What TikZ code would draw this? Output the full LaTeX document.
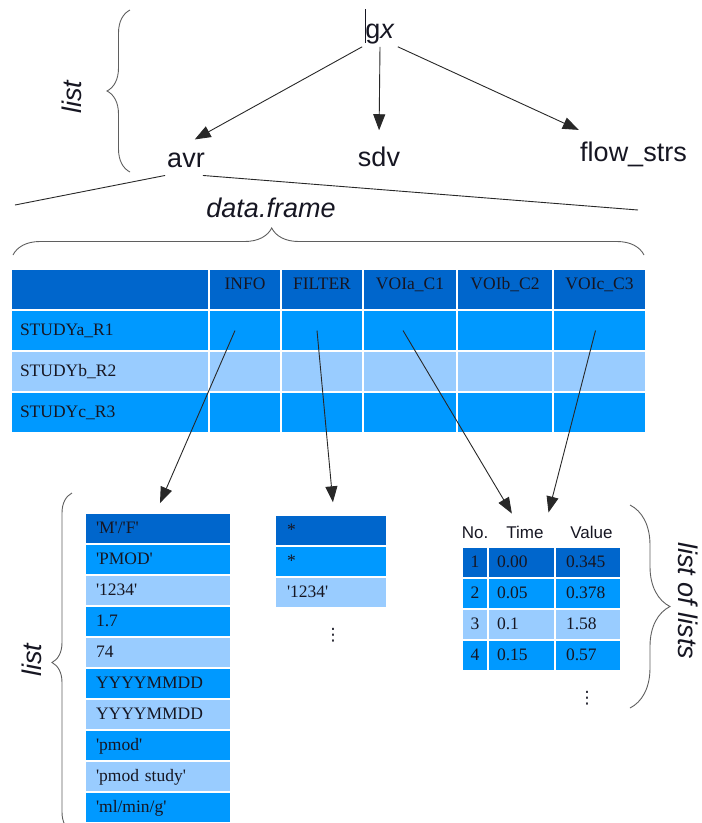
\documentclass[tikz,border=0pt]{standalone}
\usepackage{fontspec}
\setmainfont{Liberation Serif}[Ligatures=TeXOff]
\setsansfont{Liberation Sans}
\newfontfamily\vdotfont{DejaVu Sans}
\usepackage{tikz}
\usetikzlibrary{arrows.meta, decorations.pathreplacing}
\definecolor{BlueDark}{RGB}{0,102,204}
\definecolor{BlueMid}{RGB}{0,153,255}
\definecolor{BlueLight}{RGB}{153,204,255}
\definecolor{InkDark}{RGB}{22,22,34}
\definecolor{InkGrey}{RGB}{40,40,40}
\definecolor{BraceGrey}{RGB}{95,95,95}
\newcommand{\lblfont}{\sffamily\fontsize{27}{32}\selectfont}
\newcommand{\cellfont}{\rmfamily\fontsize{17.5}{21}\selectfont}
\newcommand{\colfont}{\sffamily\fontsize{17}{20}\selectfont}

\begin{document}
\begin{tikzpicture}[x=1pt,y=-1pt,
    lbl/.style={font=\lblfont,text=InkDark,inner sep=8pt,anchor=base},
    ital/.style={font=\lblfont\itshape,text=InkDark,inner sep=1pt},
    cell/.style={draw=white,line width=1.5pt,inner xsep=9pt,inner ysep=0pt,
                 minimum height=41pt,text height=12pt,text depth=3pt,
                 font=\cellfont,text=InkDark},
    hd/.style={cell,fill=BlueDark,text depth=12pt},
    item/.style={cell,minimum height=31pt},
    icell/.style={item,inner xsep=11pt,text width=124pt,align=left},
    fcell/.style={item,inner xsep=12pt,text width=88pt,align=left},
    dk/.style={fill=BlueDark}, md/.style={fill=BlueMid}, lt/.style={fill=BlueLight},
    arr/.style={-{Triangle[length=16pt,width=12pt]},InkGrey,line width=0.9pt},
    ln/.style={InkGrey,line width=0.9pt},
    brc/.style={decorate,BraceGrey,line width=0.9pt}
  ]
  \useasboundingbox (0,0) rectangle (702,823);
  \clip (0,0) rectangle (702,823);

  % gx list
  \node[font=\lblfont,text=InkDark,inner sep=3pt,anchor=base] (gx) at (380,38) {g\textit{x}};
  \draw[InkDark,line width=0.8pt] ([xshift=3pt,yshift=11pt]gx.north west)
    -- ([xshift=3pt,yshift=4pt]gx.south west);
  \node[lbl] (avr)  at (186,167)   {avr};
  \node[lbl] (sdv)  at (379,166)   {sdv};
  \node[lbl] (flow) at (633.5,161) {flow\_strs};
  \draw[arr,shorten >=10pt] (gx.south west) -- (avr.north);
  \draw[arr,shorten >=8pt] (gx.south) -- (sdv.north);
  \draw[arr,shorten >=8pt] (gx.south east) -- ([xshift=14pt]flow.north west);
  \draw[brc,decoration={brace,amplitude=23pt}] (130,172) -- (130,10);
  \node[ital,rotate=90] (lst_top) at (72,97) {list};

  % avr opened up as a data.frame
  \coordinate (df_l) at (15,205);
  \coordinate (df_r) at (638,210);
  \draw[ln] ([xshift=6pt]avr.south west) -- (df_l);
  \draw[ln] ([xshift=-10pt]avr.south east) -- (df_r);
  \node[ital] (df_lab) at (271,208) {data.frame};
  \draw[brc,decoration={brace,amplitude=27pt,aspect=0.41}] (13,255) -- (644,255);

  \node[hd,text width=180pt,align=left] (h_lab)  at (110,289.5) {};
  \node[hd,minimum width=72pt] (h_info) at (245,289.5)   {INFO};
  \node[hd,minimum width=82pt] (h_filt) at (322,289.5)   {FILTER};
  \node[hd,minimum width=94pt] (h_voia) at (410,289.5)   {VOIa\_C1};
  \node[hd,minimum width=96pt] (h_voib) at (505,289.5)   {VOIb\_C2};
  \node[hd,minimum width=93pt] (h_voic) at (599.5,289.5) {VOIc\_C3};

  \node[cell,md,text width=180pt,align=left] (r1_lab) at (110,330.5) {STUDYa\_R1};
  \node[cell,md,minimum width=72pt] (r1_info) at (245,330.5) {};
  \node[cell,md,minimum width=82pt] (r1_filt) at (322,330.5) {};
  \node[cell,md,minimum width=94pt] (r1_voia) at (410,330.5) {};
  \node[cell,md,minimum width=96pt] (r1_voib) at (505,330.5) {};
  \node[cell,md,minimum width=93pt] (r1_voic) at (599.5,330.5) {};

  \node[cell,lt,text width=180pt,align=left] (r2_lab) at (110,371.5) {STUDYb\_R2};
  \node[cell,lt,minimum width=72pt] (r2_info) at (245,371.5) {};
  \node[cell,lt,minimum width=82pt] (r2_filt) at (322,371.5) {};
  \node[cell,lt,minimum width=94pt] (r2_voia) at (410,371.5) {};
  \node[cell,lt,minimum width=96pt] (r2_voib) at (505,371.5) {};
  \node[cell,lt,minimum width=93pt] (r2_voic) at (599.5,371.5) {};

  \node[cell,md,text width=180pt,align=left] (r3_lab) at (110,412.5) {STUDYc\_R3};
  \node[cell,md,minimum width=72pt] (r3_info) at (245,412.5) {};
  \node[cell,md,minimum width=82pt] (r3_filt) at (322,412.5) {};
  \node[cell,md,minimum width=94pt] (r3_voia) at (410,412.5) {};
  \node[cell,md,minimum width=96pt] (r3_voib) at (505,412.5) {};
  \node[cell,md,minimum width=93pt] (r3_voic) at (599.5,412.5) {};

  % INFO entry: a list
  \node[icell,dk] (info_1)  at (158,528.5) {'M'/'F'};
  \node[icell,md] (info_2)  at (158,559.5) {'PMOD'};
  \node[icell,lt] (info_3)  at (158,590.5) {'1234'};
  \node[icell,md] (info_4)  at (158,621.5) {1.7};
  \node[icell,lt] (info_5)  at (158,652.5) {74};
  \node[icell,md] (info_6)  at (158,683.5) {YYYYMMDD};
  \node[icell,lt] (info_7)  at (158,714.5) {YYYYMMDD};
  \node[icell,md] (info_8)  at (158,745.5) {'pmod'};
  \node[icell,lt] (info_9)  at (158,776.5) {'pmod study'};
  \node[icell,md] (info_10) at (158,807.5) {'ml/min/g'};
  \draw[brc,decoration={brace,amplitude=20pt}] (72,832) -- (72,493);
  \node[ital,rotate=90] (lst_bot) at (32,660) {list};

  % FILTER entry
  \node[fcell,dk] (filt_1) at (331,530.5) {*};
  \node[fcell,md] (filt_2) at (331,561.5) {*};
  \node[fcell,lt] (filt_3) at (331,592.5) {'1234'};
  \node[font=\vdotfont\fontsize{17}{20}\selectfont,text=InkDark] (filt_dots) at (333,635) {⋮};

  % VOI entries: list of lists
  \node[font=\colfont,text=InkDark,anchor=base] (tb_no)   at (475,538) {No.};
  \node[font=\colfont,text=InkDark,anchor=base] (tb_time) at (525,538) {Time};
  \node[font=\colfont,text=InkDark,anchor=base] (tb_val)  at (591.5,538) {Value};
  \node[item,dk,minimum width=26pt,inner xsep=0pt] (t1_no) at (475,562.5) {1};
  \node[item,dk,text width=49pt,align=left] (t1_time) at (521.5,562.5) {0.00};
  \node[item,dk,inner xsep=11pt,text width=44pt,align=left] (t1_val) at (588,562.5) {0.345};
  \node[item,md,minimum width=26pt,inner xsep=0pt] (t2_no) at (475,593.5) {2};
  \node[item,md,text width=49pt,align=left] (t2_time) at (521.5,593.5) {0.05};
  \node[item,md,inner xsep=11pt,text width=44pt,align=left] (t2_val) at (588,593.5) {0.378};
  \node[item,lt,minimum width=26pt,inner xsep=0pt] (t3_no) at (475,624.5) {3};
  \node[item,lt,text width=49pt,align=left] (t3_time) at (521.5,624.5) {0.1};
  \node[item,lt,inner xsep=11pt,text width=44pt,align=left] (t3_val) at (588,624.5) {1.58};
  \node[item,md,minimum width=26pt,inner xsep=0pt] (t4_no) at (475,655.5) {4};
  \node[item,md,text width=49pt,align=left] (t4_time) at (521.5,655.5) {0.15};
  \node[item,md,inner xsep=11pt,text width=44pt,align=left] (t4_val) at (588,655.5) {0.57};
  \node[font=\vdotfont\fontsize{17}{20}\selectfont,text=InkDark] (val_dots) at (587,698) {⋮};
  \draw[brc,decoration={brace,amplitude=40pt}] (630,505) -- (630,708);
  \node[ital,rotate=-90] (lst_lists) at (688,601) {list of lists};

  % cell entries pointing down
  \draw[arr,shorten >=10pt] ([xshift=-10pt]r1_info.center) -- ([xshift=-2pt]info_1.north);
  \draw[arr,shorten >=12pt] ([xshift=-5pt]r1_filt.center) -- ([xshift=3pt]filt_1.north);
  \draw[arr,shorten >=10pt] ([xshift=-7pt]r1_voia.center) -- ([xshift=-8pt]tb_time.north);
  \draw[arr,shorten >=10pt] ([xshift=-4pt]r1_voic.center) -- ([xshift=21pt]tb_time.north);
\end{tikzpicture}
\end{document}
